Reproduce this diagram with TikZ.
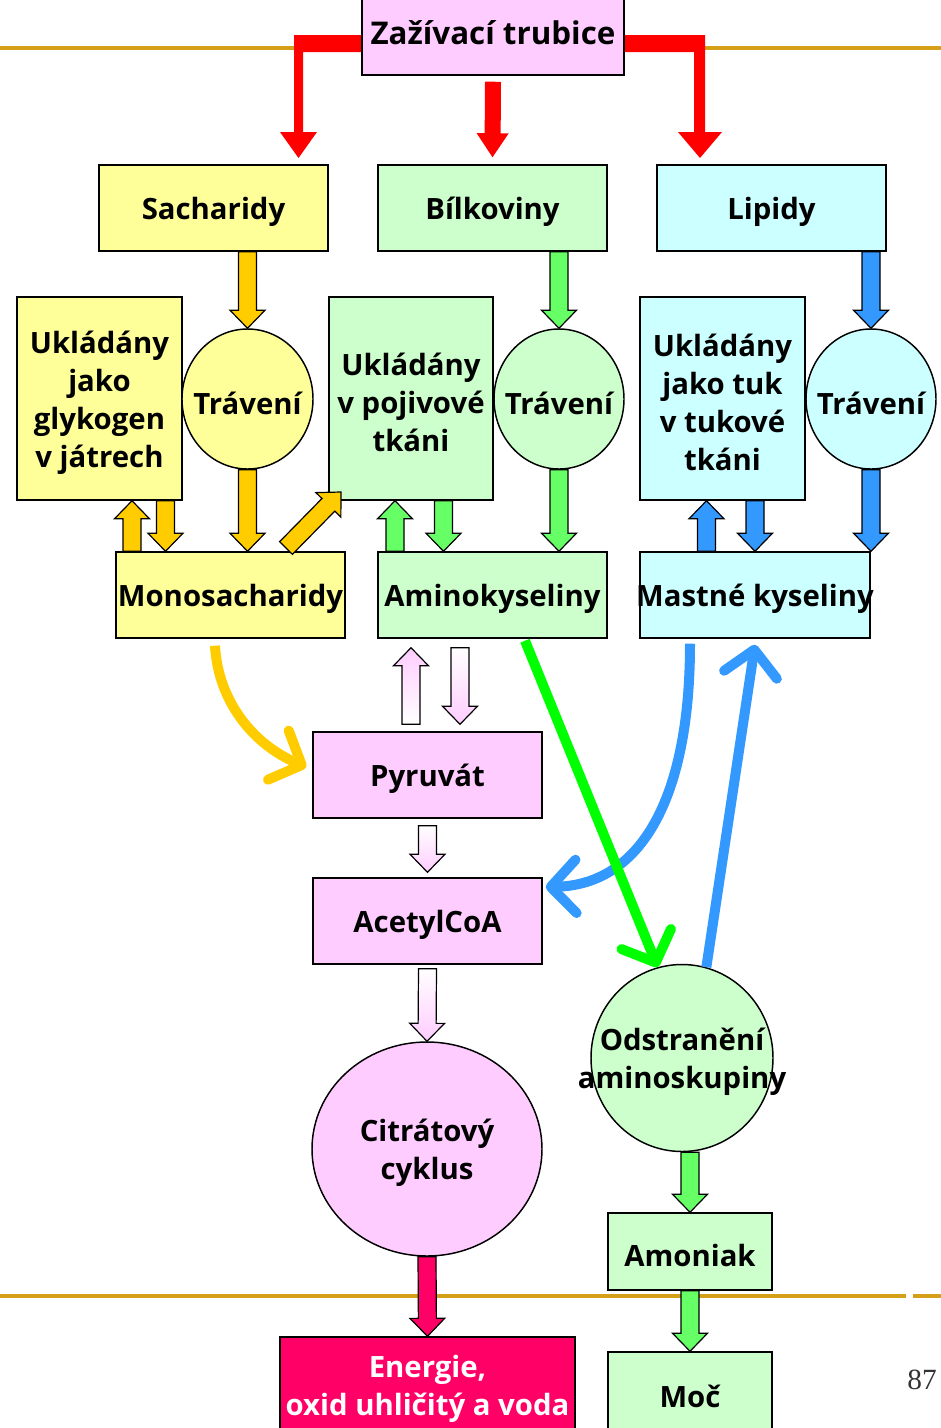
\documentclass[tikz,border=0pt]{standalone}
\usepackage{fontspec}
\setmainfont{Open Sans}
\newfontfamily\numfont{Liberation Serif}
\usetikzlibrary{arrows.meta,calc,shapes.geometric}

\definecolor{pinkbox}{HTML}{FFCCFF}
\definecolor{ylwbox}{HTML}{FFFF99}
\definecolor{grnbox}{HTML}{CCFFCC}
\definecolor{cynbox}{HTML}{CCFFFF}
\definecolor{ylwarr}{HTML}{FFCC00}
\definecolor{grnarr}{HTML}{66FF66}
\definecolor{bluarr}{HTML}{3399FF}
\definecolor{grnline}{HTML}{00FF00}
\definecolor{energy}{HTML}{FF0066}
\definecolor{rulecol}{RGB}{212,160,23}
\definecolor{redarr}{HTML}{FF0000}

\newcommand\lblfont{\fontsize{22}{28.5}\selectfont\bfseries}
% a text line that never widens its node, set slightly low (or raised by #1)
\newcommand\ctrline[2][-3pt]{\makebox[0pt]{\raisebox{#1}[\height][\depth]{#2}}}

% block arrow dimensions (pt): shaft half width, head half width, head length
\def\aw{6.75}
\def\hw{13.1}
\def\ah{13.5}
% block arrow from #2 (tail) to #3 (tip), drawn with style #1
\newcommand\barrow[3]{%
  \path[#1] let \p1=#2, \p2=#3,
      \n1={veclen(\x2-\x1,\y2-\y1)},
      \n3={(\x2-\x1)/\n1}, \n4={(\y2-\y1)/\n1},
      \n5={\n1-\ah} in
    ({\x1-\aw*(\n4)},{\y1+\aw*(\n3)})
    -- ({\x1+\n5*(\n3)-\aw*(\n4)},{\y1+\n5*(\n4)+\aw*(\n3)})
    -- ({\x1+\n5*(\n3)-\hw*(\n4)},{\y1+\n5*(\n4)+\hw*(\n3)})
    -- (\p2)
    -- ({\x1+\n5*(\n3)+\hw*(\n4)},{\y1+\n5*(\n4)-\hw*(\n3)})
    -- ({\x1+\n5*(\n3)+\aw*(\n4)},{\y1+\n5*(\n4)-\aw*(\n3)})
    -- ({\x1+\aw*(\n4)},{\y1-\aw*(\n3)}) -- cycle;}

\begin{document}
\begin{tikzpicture}[x=0.75pt,y=-0.75pt,
  box/.style={draw=black, line width=1.1pt, inner sep=0pt, align=center, font=\lblfont},
  rectbox/.style 2 args={box, rectangle, minimum width=#1, minimum height=#2},
  roundbox/.style 2 args={box, ellipse, minimum width=#1, minimum height=#2},
  blockarr/.style={draw=black, line width=0.9pt, line join=miter},
  ylwblk/.style={blockarr, fill=ylwarr},
  grnblk/.style={blockarr, fill=grnarr},
  blublk/.style={blockarr, fill=bluarr},
  pinkup/.style={blockarr, top color=pinkbox, bottom color=white},
  pinkdown/.style={blockarr, top color=white, bottom color=pinkbox},
  flowline/.style={line width=7.5pt, -{Straight Barb[length=19pt,width=40pt,round]}},
  rule/.style={rulecol, line width=3pt}
]
\useasboundingbox (0,0) rectangle (941,1428);

% horizontal rules
\draw[rule] (0,48) -- (941,48);
\draw[rule] (0,1296) -- (906,1296);
\draw[rule] (913,1296) -- (941,1296);

% red branches from the digestive tube
\fill[redarr] (362,35) -- (294,35) -- (294,132) -- (280,132) -- (298.5,158)
  -- (317,132) -- (303,132) -- (303,52) -- (362,52) -- cycle;
\fill[redarr] (624,35) -- (705,35) -- (705,132) -- (722,132) -- (700,158)
  -- (678,132) -- (694,132) -- (694,52) -- (624,52) -- cycle;

% nodes
\node[rectbox={196.5pt}{57pt}, fill=pinkbox, font=\fontsize{23.5}{28.5}\selectfont\bfseries] (zaz) at (493,37)
  {\ctrline[3pt]{Zažívací trubice}};
\node[rectbox={171.75pt}{64.5pt}, fill=ylwbox] (sach) at (213.5,208) {\ctrline{Sacharidy}};
\node[rectbox={171.75pt}{64.5pt}, fill=grnbox] (bil) at (492.5,208) {\ctrline{Bílkoviny}};
\node[rectbox={171.75pt}{64.5pt}, fill=cynbox] (lip) at (771.5,208) {\ctrline{Lipidy}};

\node[rectbox={123.75pt}{152.25pt}, fill=ylwbox] (glyk) at (99.5,398.5)
  {\ctrline{Ukládány}\\\ctrline{jako}\\\ctrline{glykogen}\\\ctrline{v játrech}};
\node[roundbox={98.25pt}{105pt}, fill=ylwbox] (trav1) at (247.5,399) {\ctrline{Trávení}};
\node[rectbox={123pt}{152.25pt}, fill=grnbox] (poj) at (411,398.5)
  {\ctrline{Ukládány}\\\ctrline{v pojivové}\\\ctrline{tkáni}};
\node[roundbox={97.5pt}{105pt}, fill=grnbox] (trav2) at (559,399) {\ctrline{Trávení}};
\node[rectbox={123.75pt}{152.25pt}, fill=cynbox] (tuk) at (722.5,398.5)
  {\ctrline{Ukládány}\\\ctrline{jako tuk}\\\ctrline{v tukové}\\\ctrline{tkáni}};
\node[roundbox={97.5pt}{105pt}, fill=cynbox] (trav3) at (871,399) {\ctrline{Trávení}};

\node[rectbox={171.75pt}{64.5pt}, fill=ylwbox] (mono) at (230.5,595) {\ctrline{Monosacharidy}};
\node[rectbox={171.75pt}{64.5pt}, fill=grnbox] (amino) at (492.5,595) {\ctrline{Aminokyseliny}};
\node[rectbox={172.5pt}{64.5pt}, fill=cynbox] (mastne) at (755,595) {\ctrline{Mastné kyseliny}};

\node[rectbox={171.75pt}{64.5pt}, fill=pinkbox] (pyr) at (427.5,775) {\ctrline{Pyruvát}};
\node[rectbox={171.75pt}{64.5pt}, fill=pinkbox] (acetyl) at (427.5,921) {\ctrline{AcetylCoA}};
\node[roundbox={172.5pt}{160.5pt}, fill=pinkbox] (citrat) at (427,1149)
  {\ctrline{Citrátový}\\\ctrline{cyklus}};
\node[roundbox={136.5pt}{140.25pt}, fill=grnbox] (odst) at (682,1058)
  {\ctrline{Odstranění}\\\ctrline{aminoskupiny}};
\node[rectbox={123pt}{57.75pt}, fill=grnbox] (amon) at (690,1251.5) {\ctrline{Amoniak}};
\node[rectbox={123pt}{60pt}, fill=grnbox] (moc) at (690,1392) {\ctrline{Moč}};
\node[rectbox={221.25pt}{71.25pt}, fill=energy, text=white] (energ) at (427.5,1384.5)
  {\ctrline{Energie,}\\\ctrline{oxid uhličitý a voda}};
\node[font=\numfont\fontsize{22}{26}\selectfont, text=black!80, inner sep=0pt] (pg) at (922,1380) {87};

% columns of the paired block arrows
\coordinate (xg1) at (132,0);
\coordinate (xg2) at (165.5,0);
\coordinate (xp1) at (395,0);
\coordinate (xp2) at (443.5,0);
\coordinate (xt1) at (706.5,0);
\coordinate (xt2) at (755,0);
\coordinate (xa1) at (411,0);
\coordinate (xa2) at (460,0);
\coordinate (xam) at (690,0);
\coordinate (dg1) at (286,548);
\coordinate (dg2) at (341,492);

% middle red arrow
{\def\aw{6}\def\hw{12}\def\ah{18}%
 \barrow{fill=redarr}{($(zaz.south)+(0,6)$)}{($(bil.north)+(0,-7)$)}}

% carbohydrates
\barrow{ylwblk}{(trav1.north |- sach.south)}{(trav1.north)}
\barrow{ylwblk}{(trav1.south)}{(trav1.south |- mono.north)}
\barrow{ylwblk}{(xg1 |- mono.north)}{(xg1 |- glyk.south)}
\barrow{ylwblk}{(xg2 |- glyk.south)}{(xg2 |- mono.north)}
\barrow{ylwblk}{(dg1)}{(dg2)}

% proteins
\barrow{grnblk}{(trav2.north |- bil.south)}{(trav2.north)}
\barrow{grnblk}{(trav2.south)}{(trav2.south |- amino.north)}
\barrow{grnblk}{(xp1 |- amino.north)}{(xp1 |- poj.south)}
\barrow{grnblk}{(xp2 |- poj.south)}{(xp2 |- amino.north)}

% lipids
\barrow{blublk}{(trav3.north |- lip.south)}{(trav3.north)}
\barrow{blublk}{(trav3.south)}{(trav3.south |- mastne.north)}
\barrow{blublk}{(xt1 |- mastne.north)}{(xt1 |- tuk.south)}
\barrow{blublk}{(xt2 |- tuk.south)}{(xt2 |- mastne.north)}

% pyruvate and the citrate cycle
\barrow{pinkup}{($(xa1 |- pyr.north)+(0,-7)$)}{($(xa1 |- amino.south)+(0,9)$)}
\barrow{pinkdown}{($(xa2 |- amino.south)+(0,9)$)}{($(xa2 |- pyr.north)+(0,-7)$)}
\barrow{pinkdown}{($(pyr.south)+(0,7)$)}{($(acetyl.north)+(0,-5)$)}
\barrow{pinkdown}{($(acetyl.south)+(0,4)$)}{(citrat.north)}
\barrow{blockarr, fill=energy}{(citrat.south)}{(energ.north)}

% amino group removal
\barrow{grnblk}{(xam |- odst.south)}{(xam |- amon.north)}
\barrow{grnblk}{(xam |- amon.south)}{(xam |- moc.north)}

% flow lines
\draw[flowline, ylwarr] ([shift={(-15.5,7)}]mono.south)
  .. controls (218,700) and (252,744) .. ([shift={(-6,-8)}]pyr.west);
\draw[flowline, bluarr] ([shift={(-65,5)}]mastne.south)
  .. controls (690,800) and (640,885) .. ([shift={(3,-34)}]acetyl.east);
\draw[flowline, bluarr] (odst.75) -- ([yshift=-4.5pt]mastne.south);
\draw[flowline, grnline] ([shift={(32.5,2)}]amino.south) -- (odst.105);
\end{tikzpicture}
\end{document}
